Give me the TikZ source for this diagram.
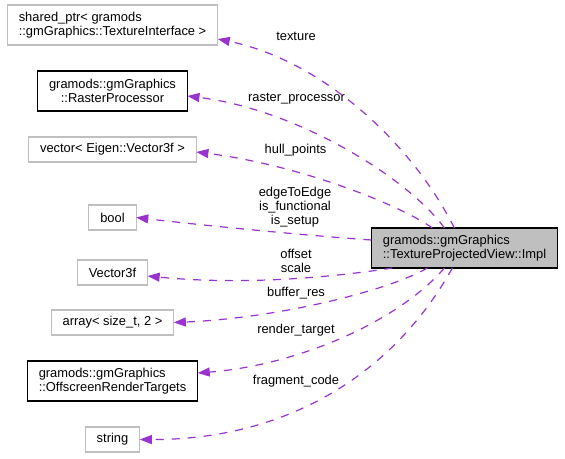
\documentclass[tikz,border=0pt]{standalone}
\usepackage{fontspec}
\setmainfont{Liberation Sans}
\usetikzlibrary{positioning}
\usetikzlibrary{arrows.meta}
\definecolor{orchid}{HTML}{9A32CD}
\definecolor{grey75}{HTML}{BFBFBF}
\begin{document}
\begin{tikzpicture}[x=1bp,y=1bp,
	box/.style={draw=grey75, line width=1.1bp, outer sep=0pt, inner xsep=11.5bp, inner ysep=2bp, minimum height=25bp, align=left, font=\fontsize{12.9bp}{14bp}\selectfont},
	tall/.style={minimum height=40bp},
	doc/.style={draw=black},
	lbl/.style={align=center, inner sep=0pt, font=\fontsize{12.9bp}{14bp}\selectfont},
	mem/.style={draw=orchid, line width=1.2bp, dash pattern=on 8bp off 8bp, -{Triangle[length=12bp,width=9bp]}, fill=none}]
	\useasboundingbox (0,0) rectangle (565,-459);
	\node (tex) [box, tall] at (112.5,-25) {shared\_ptr< gramods\\::gmGraphics::TextureInterface >};
	\node (rp) [box, tall, doc, align=center, below=26bp of tex] {gramods::gmGraphics\\::RasterProcessor};
	\node (vec) [box, below=26bp of rp] {vector< Eigen::Vector3f >};
	\node (bool) [box, below=43bp of vec] {bool};
	\node (v3) [box, below=30bp of bool] {Vector3f};
	\node (arr) [box, below=25bp of v3] {array< size\_t, 2 >};
	\node (ort) [box, tall, doc, below=26bp of arr] {gramods::gmGraphics\\::OffscreenRenderTargets};
	\node (str) [box, below=26bp of ort] {string};
	\node (impl) [box, tall, doc, fill=grey75] at (464.5,-248) {gramods::gmGraphics\\::TextureProjectedView::Impl};

	\node (ltex) [lbl] at (296,-36) {texture};
	\node (lrp) [lbl] at (296.5,-99) {raster\_processor};
	\node (lvec) [lbl] at (295.5,-150.5) {hull\_points};
	\node (lbool) [lbl] at (295,-207) {edgeToEdge\\is\_functional\\is\_setup};
	\node (lv3) [lbl] at (296,-260.5) {offset\\scale};
	\node (larr) [lbl] at (296,-293) {buffer\_res};
	\node (lort) [lbl] at (296,-330) {render\_target};
	\node (lstr) [lbl] at (296,-381) {fragment\_code};

	\draw[mem] ([xshift=83bp]impl.north west) .. controls (410,-140) and (320,-60) .. ([yshift=-14bp]tex.east);
	\draw[mem] ([xshift=73bp]impl.north west) .. controls (410,-180) and (300,-110) .. ([yshift=-5bp]rp.east);
	\draw[mem] ([xshift=61bp]impl.north west) .. controls (400,-205) and (300,-165) .. ([yshift=-2.5bp]vec.east);
	\draw[mem] ([yshift=8bp]impl.west) .. controls (300,-235) and (200,-225) .. (bool.east);
	\draw[mem] ([xshift=21bp]impl.south west) .. controls (340,-276) and (250,-286) .. ([yshift=-3.5bp]v3.east);
	\draw[mem] ([xshift=56bp]impl.south west) .. controls (390,-290) and (280,-318) .. (arr.east);
	\draw[mem] ([xshift=73bp]impl.south west) .. controls (400,-320) and (300,-365) .. ([yshift=8bp]ort.east);
	\draw[mem] ([xshift=81bp]impl.south west) .. controls (390,-380) and (280,-440) .. (str.east);
\end{tikzpicture}
\end{document}
